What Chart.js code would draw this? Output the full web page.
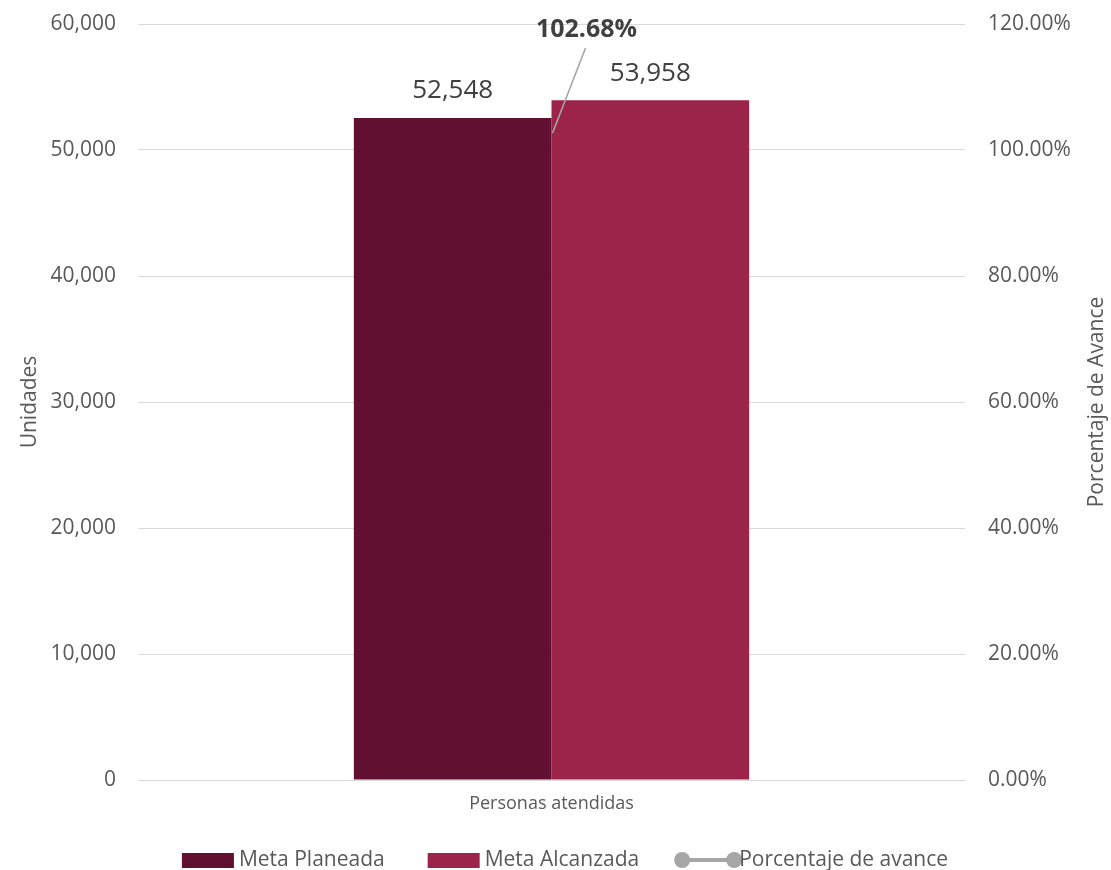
<!DOCTYPE html>
<html>
<head>
<meta charset="utf-8">
<script src="https://cdn.jsdelivr.net/npm/chart.js@4"></script>
<style>
  html,body{margin:0;padding:0;background:#fff;}
  #wrap{width:1111px;height:870px;position:relative;}
</style>
</head>
<body>
<div id="wrap"><canvas id="c" width="1111" height="870"></canvas></div>
<script>
const categories = ["Personas atendidas"];
const metaPlaneada = [52548];
const metaAlcanzada = [53958];
const porcentajeAvance = [102.68];
const seriesNames = ["Meta Planeada", "Meta Alcanzada", "Porcentaje de avance"];
const leftTitle = "Unidades";
const rightTitle = "Porcentaje de Avance";

const FONT = "'Open Sans', 'Noto Sans', sans-serif";
const TXT = "#595959";
const C_DARK = "#621032";
const C_LIGHT = "#9B2448";
const C_LINE = "#A6A6A6";

const labelPlugin = {
  id: 'labels',
  afterDatasetsDraw(chart) {
    const ctx = chart.ctx;
    ctx.save();
    ctx.fillStyle = "#404040";
    ctx.font = "26px " + FONT;
    ctx.textAlign = "center";
    ctx.textBaseline = "middle";
    [0, 1].forEach(i => {
      const ds = chart.data.datasets[i];
      chart.getDatasetMeta(i).data.forEach((el, j) => {
        ctx.fillText(ds.data[j].toLocaleString('en-US'), el.x, el.y - 27);
      });
    });
    const lds = chart.data.datasets[2];
    chart.getDatasetMeta(2).data.forEach((pt, j) => {
      ctx.strokeStyle = C_LINE;
      ctx.lineWidth = 1.5;
      ctx.beginPath();
      ctx.moveTo(pt.x + 1, pt.y);
      ctx.lineTo(pt.x + 34, pt.y - 85);
      ctx.stroke();
      ctx.font = "bold 25px " + FONT;
      ctx.fillStyle = "#404040";
      ctx.fillText(lds.data[j].toFixed(2) + "%", pt.x + 35, pt.y - 103);
    });
    ctx.restore();
  }
};

const legendPlugin = {
  id: 'customLegend',
  afterDraw(chart) {
    const ctx = chart.ctx;
    ctx.save();
    const ca = chart.chartArea;
    ctx.font = "21px " + FONT;
    ctx.fillStyle = TXT;
    ctx.textAlign = "center";
    ctx.textBaseline = "middle";
    ctx.translate(1097, (ca.top + ca.bottom) / 2);
    ctx.rotate(-Math.PI / 2);
    ctx.fillText(rightTitle, 0, 0);
    ctx.restore();

    ctx.save();
    ctx.font = "21px " + FONT;
    ctx.textBaseline = "middle";
    ctx.textAlign = "left";
    const y = 860;
    const symW = 52, gapSym = 5, gapItem = 43;
    const widths = seriesNames.map(n => ctx.measureText(n).width);
    let total = 0;
    widths.forEach((w, i) => { total += symW + gapSym + w + (i < widths.length - 1 ? gapItem : 0); });
    let x = 565 - total / 2;
    seriesNames.forEach((name, i) => {
      if (i < 2) {
        ctx.fillStyle = i === 0 ? C_DARK : C_LIGHT;
        ctx.fillRect(x, y - 7, symW, 15);
      } else {
        ctx.strokeStyle = C_LINE;
        ctx.lineWidth = 4;
        ctx.beginPath();
        ctx.moveTo(x, y);
        ctx.lineTo(x + symW, y);
        ctx.stroke();
        ctx.fillStyle = C_LINE;
        ctx.beginPath(); ctx.arc(x, y, 8, 0, Math.PI * 2); ctx.fill();
        ctx.beginPath(); ctx.arc(x + symW, y, 8, 0, Math.PI * 2); ctx.fill();
      }
      ctx.fillStyle = TXT;
      ctx.fillText(name, x + symW + gapSym, y);
      x += symW + gapSym + widths[i] + gapItem;
    });
    ctx.restore();
  }
};

new Chart(document.getElementById('c'), {
  type: 'bar',
  data: {
    labels: categories,
    datasets: [
      { label: seriesNames[0], data: metaPlaneada, backgroundColor: C_DARK, yAxisID: 'y', categoryPercentage: 0.478, barPercentage: 1.0, order: 2 },
      { label: seriesNames[1], data: metaAlcanzada, backgroundColor: C_LIGHT, yAxisID: 'y', categoryPercentage: 0.478, barPercentage: 1.0, order: 2 },
      { type: 'line', label: seriesNames[2], data: porcentajeAvance, yAxisID: 'y2', borderColor: C_LINE, backgroundColor: C_LINE, pointRadius: 0, showLine: false, order: 1 }
    ]
  },
  options: {
    responsive: false,
    animation: false,
    layout: { padding: { top: 24, left: 0, right: 0, bottom: 0 } },
    plugins: { legend: { display: false }, tooltip: { enabled: false } },
    scales: {
      x: {
        grid: { display: false, drawTicks: false },
        border: { display: true, color: "#D9D9D9", width: 1 },
        ticks: { color: TXT, font: { family: FONT, size: 18 }, padding: 13 },
        afterFit(s) { s.height = 90; s.paddingLeft = 0; s.paddingRight = 0; }
      },
      y: {
        position: 'left',
        min: 0, max: 60000,
        ticks: { stepSize: 10000, color: TXT, font: { family: FONT, size: 21 }, padding: 22,
          callback: v => v.toLocaleString('en-US') },
        grid: { color: "#D9D9D9", drawTicks: false, lineWidth: 1 },
        border: { display: false },
        title: { display: true, text: leftTitle, color: TXT, font: { family: FONT, size: 21 }, padding: { top: 17, bottom: 0 } },
        afterFit(s) { s.width = 138; s.paddingTop = 0; s.paddingBottom = 0; }
      },
      y2: {
        position: 'right',
        min: 0, max: 120,
        ticks: { stepSize: 20, color: TXT, font: { family: FONT, size: 21 }, padding: 23,
          callback: v => v.toFixed(2) + '%' },
        grid: { display: false, drawTicks: false },
        border: { display: false },
        title: { display: false },
        afterFit(s) { s.width = 146; s.paddingTop = 0; s.paddingBottom = 0; }
      }
    }
  },
  plugins: [labelPlugin, legendPlugin]
});
</script>
</body>
</html>
